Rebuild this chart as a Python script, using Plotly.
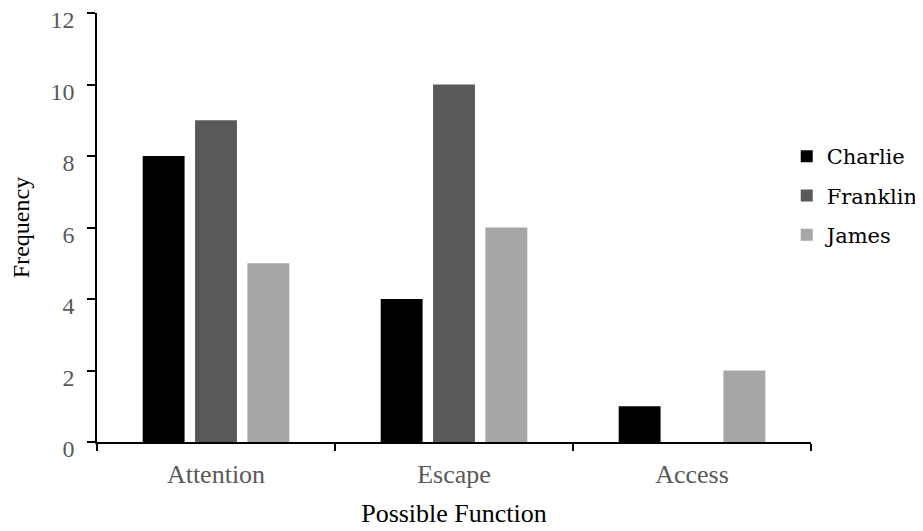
import plotly.graph_objects as go

categories = ["Attention", "Escape", "Access"]
charlie = [8, 4, 1]
franklin = [9, 10, 0]
james = [5, 6, 2]
y_ticks = [0, 2, 4, 6, 8, 10, 12]

series = [("Charlie", charlie, "#000000"),
          ("Franklin", franklin, "#595959"),
          ("James", james, "#a6a6a6")]

fig = go.Figure()
for name, vals, col in series:
    fig.add_trace(go.Bar(x=categories, y=vals, name=name, marker_color=col,
                         marker_line_width=0, legendgroup=name))

# page has an 8px body margin; figure drawn at (8, 8)
W, H = 915, 523
L, T = 89, 5
R = W - (811 - 8)
B = H - (442 - 8)

fig.update_layout(
    width=W, height=H,
    margin=dict(l=L, r=R, t=T, b=B, autoexpand=False),
    paper_bgcolor="white", plot_bgcolor="white",
    barmode="group", bargap=0.34, bargroupgap=0.2,
    font=dict(family="Liberation Serif", color="#000000"),
    showlegend=True,
    legend=dict(x=0.966, y=0.713,
                xanchor="left", yanchor="top",
                font=dict(family="DejaVu Serif", size=21, color="#000000"),
                bgcolor="rgba(0,0,0,0)", itemwidth=30, tracegroupgap=9,
                traceorder="grouped"),
    xaxis=dict(
        automargin=False,
        showline=True, linecolor="#000000", linewidth=1.5,
        ticks="outside", tickson="boundaries", ticklen=7, tickwidth=1.5,
        tickcolor="#000000", ticklabelstandoff=8,
        tickfont=dict(family="Liberation Serif", size=26, color="#595959"),
        title=dict(text="Possible Function", standoff=16,
                   font=dict(family="Liberation Serif", size=26, color="#000000")),
        showgrid=False, zeroline=False,
    ),
    yaxis=dict(
        automargin=False,
        range=[0, 12], tickvals=y_ticks,
        showline=True, linecolor="#000000", linewidth=1.5,
        ticks="outside", ticklen=8, tickwidth=1.5, tickcolor="#000000",
        ticklabelstandoff=8, ticklabelshift=7, ticklabeloverflow="allow",
        tickfont=dict(family="Liberation Serif", size=24, color="#595959"),
        title=dict(text="Frequency", standoff=15,
                   font=dict(family="Liberation Serif", size=24, color="#000000")),
        showgrid=False, zeroline=False,
    ),
)

fig.write_html("out.html")
